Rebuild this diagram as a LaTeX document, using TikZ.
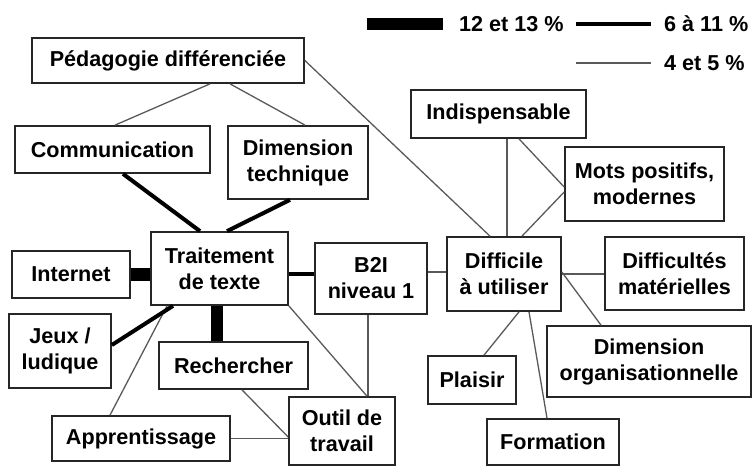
\documentclass[tikz,border=0pt]{standalone}
\usepackage{fontspec}
\setmainfont{Liberation Sans}

\begin{document}
\begin{tikzpicture}[x=1pt,y=-1pt,
  box/.style 2 args={draw=black!85,line width=1.7pt,fill=white,align=center,
    inner sep=0pt,minimum width=#1pt,minimum height=#2pt,
    font=\fontsize{21.6}{26}\selectfont\bfseries},
  legende/.style={anchor=west,inner sep=0pt,font=\fontsize{21.6}{26}\selectfont\bfseries},
  faible/.style={draw=black!65,line width=1.3pt},
  moyen/.style={draw=black,line width=4pt},
  fort/.style={draw=black,line width=12.5pt}]
  \useasboundingbox (0,0) rectangle (752,466);

  \node[legende] (lg1) at (459,24) {12 et 13 \%};
  \node[legende] (lg2) at (664,24) {6 à 11 \%};
  \node[legende] (lg3) at (664,63) {4 et 5 \%};
  \coordinate (bar1) at (367,24);
  \coordinate (bar2) at (576,24);
  \coordinate (bar3) at (576,63);
  \draw[fort]   (bar1) -- ([xshift=-16pt]lg1.west);
  \draw[moyen]  (bar2) -- ([xshift=-13pt]lg2.west);
  \draw[faible] (bar3) -- ([xshift=-13pt]lg3.west);

  \node[box={272}{45}] (ped)      at (168,60.5)   {Pédagogie différenciée};
  \node[box={195}{47}] (comm)     at (112.5,149.5) {Communication};
  \node[box={140}{73}] (dimtech)  at (298,162.5)  {Dimension\\technique};
  \node[box={137}{73}] (trait)    at (219.5,268.5) {Traitement\\de texte};
  \node[box={118}{47}] (internet) at (71,274.5)   {Internet};
  \node[box={102}{74}] (jeux)     at (60,351)     {Jeux /\\ludique};
  \node[box={149}{47}] (rech)     at (233.5,365.5) {Rechercher};
  \node[box={178}{45}] (appr)     at (141,438.5)  {Apprentissage};
  \node[box={106}{68}] (outil)    at (342,431)    {Outil de\\travail};
  \node[box={112}{71}] (b2i)      at (371,278.5)  {B2I\\niveau 1};
  \node[box={114}{74}] (diff)     at (504,274)    {Difficile\\à utiliser};
  \node[box={175}{48}] (indisp)   at (498.5,114)  {Indispensable};
  \node[box={159}{74}] (mots)     at (644.5,184)  {Mots positifs,\\modernes};
  \node[box={139}{73}] (difmat)   at (674.5,273.5) {Difficultés\\matérielles};
  \node[box={204}{71}] (dimorg)   at (649,361.5)  {Dimension\\organisationnelle};
  \node[box={88}{48}]  (plaisir)  at (472,380)    {Plaisir};
  \node[box={132}{46}] (form)     at (553,442)    {Formation};

  \path[faible]
    ([xshift=42pt]ped.south) edge ([xshift=2.5pt]comm.north)
    ([xshift=62pt]ped.south) edge ([xshift=7pt]dimtech.north)
    (ped.east)               edge ([xshift=-14pt]diff.north)
    ([xshift=-52.5pt]trait.south) edge ([xshift=-31pt]appr.north)
    (trait.south east)       edge ([xshift=25pt]outil.north)
    ([xshift=-3pt]b2i.south) edge ([xshift=-3pt]b2i.south |- outil.north)
    ([yshift=6.5pt]b2i.east) edge ([yshift=6.5pt]b2i.east -| diff.west)
    ([xshift=8.5pt]rech.south) edge ([yshift=-6pt]outil.west)
    (appr.east)              edge (appr.east -| outil.west)
    ([xshift=8.5pt]indisp.south) edge ([xshift=8.5pt]indisp.south |- diff.north)
    ([xshift=20.5pt]indisp.south) edge ([yshift=-3pt]mots.west)
    ([yshift=-8pt]mots.west) edge ([xshift=18pt]diff.north)
    (diff.east)              edge (diff.east -| difmat.west)
    ([yshift=2pt]diff.east)  edge ([xshift=-48pt]dimorg.north)
    ([xshift=15pt]diff.south) edge ([xshift=12pt]plaisir.north)
    ([xshift=25pt]diff.south) edge ([xshift=-6pt]form.north);

  \path[moyen]
    ([xshift=10.5pt]comm.south) edge ([xshift=-19.5pt]trait.north)
    ([xshift=-8pt]dimtech.south) edge ([xshift=7.5pt]trait.north)
    ([yshift=6pt]jeux.east) edge ([xshift=-46.5pt]trait.south)
    ([yshift=-5.5pt]trait.east) edge ([yshift=-5.5pt]trait.east -| b2i.west);

  \path[fort]
    (internet.east) edge (internet.east -| trait.west)
    ([xshift=-2.5pt]trait.south) edge ([xshift=-2.5pt]trait.south |- rech.north);
\end{tikzpicture}
\end{document}
